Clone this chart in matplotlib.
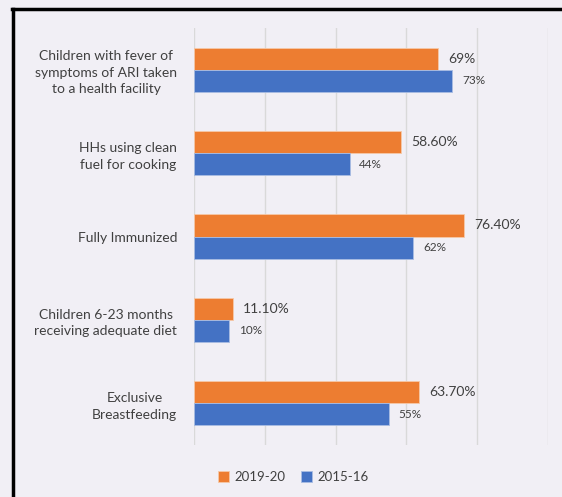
import matplotlib.pyplot as plt
from matplotlib.lines import Line2D
import numpy as np

categories = ["Children with fever of\nsymptoms of ARI taken\nto a health facility",
              "HHs using clean\nfuel for cooking",
              "Fully Immunized",
              "Children 6-23 months\nreceiving adequate diet",
              "Exclusive\nBreastfeeding"]
vals_2019 = [69, 58.6, 76.4, 11.1, 63.7]
vals_2015 = [73, 44, 62, 10, 55]
labels_2019 = ["69%", "58.60%", "76.40%", "11.10%", "63.70%"]
labels_2015 = ["73%", "44%", "62%", "10%", "55%"]

bg = '#F1EFF5'
orange = '#ED7D31'
blue = '#4472C4'
txt = '#404040'

plt.rcParams['font.family'] = ['Lato', 'DejaVu Sans']

fig = plt.figure(figsize=(5.62, 4.97), dpi=100, facecolor=bg)
ax = fig.add_axes([0.345, 0.1046, 0.63, 0.839])
ax.set_facecolor(bg)

y = np.arange(len(categories))
h = 0.265
b1 = ax.barh(y - h / 2, vals_2019, height=h, color=orange, edgecolor='#F6C9A8', linewidth=0.6, label='2019-20', zorder=3)
b2 = ax.barh(y + h / 2, vals_2015, height=h, color=blue, edgecolor='#A9BDE3', linewidth=0.6, label='2015-16', zorder=3)

# etiquetas de valores
for yi, v, s in zip(y, vals_2019, labels_2019):
    ax.annotate(s, (v, yi - h / 2), xytext=(7, 0), textcoords='offset points',
                va='center', ha='left', fontsize=10, color=txt)
for yi, v, s in zip(y, vals_2015, labels_2015):
    ax.annotate(s, (v, yi + h / 2), xytext=(7, 0), textcoords='offset points',
                va='center', ha='left', fontsize=8.5, color=txt)

ax.set_xlim(0, 100)
ax.set_ylim(4.5, -0.5)
ax.set_xticks(np.arange(0, 101, 20))
ax.set_xticklabels([])
ax.tick_params(axis='x', length=0)
ax.tick_params(axis='y', length=0, pad=12)
ax.set_yticks(y)
ax.set_yticklabels(categories, fontsize=10, color=txt)
for lab in ax.get_yticklabels():
    lab.set_multialignment('center')
    lab.set_linespacing(1.45)
ax.xaxis.grid(True, color='#D9D9D9', linewidth=1, zorder=0)
for s in ax.spines.values():
    s.set_visible(False)

fig.legend(handles=[b1, b2], loc='center', bbox_to_anchor=(0.522, 0.04), ncol=2,
           frameon=False, fontsize=9.5, handlelength=0.8, handleheight=0.8,
           columnspacing=1.2, handletextpad=0.4, labelcolor=txt)

# moldura preta
fig.add_artist(Line2D([0.021, 1.0], [0.982, 0.982], color='black', linewidth=2.5))
fig.add_artist(Line2D([0.0231, 0.0231], [0.0, 0.982], color='black', linewidth=2.5))

fig.savefig('out.png', dpi=100, facecolor=bg)
